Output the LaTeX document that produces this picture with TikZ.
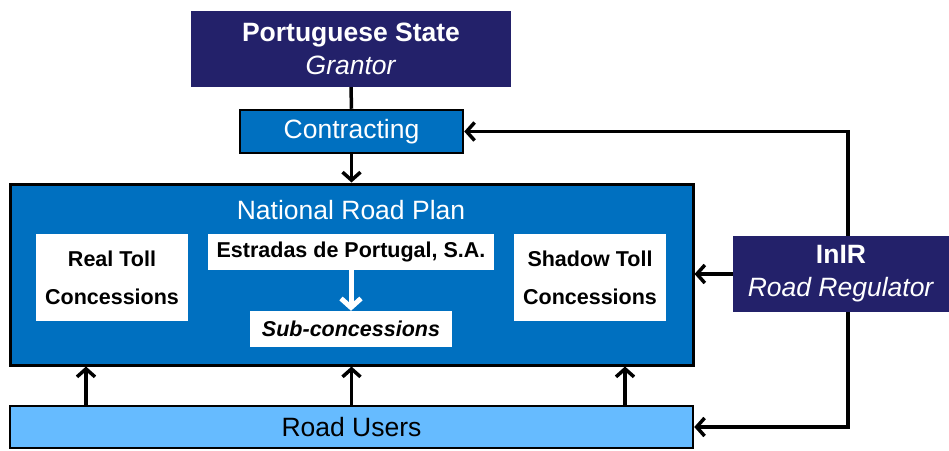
\documentclass[tikz,border=0pt]{standalone}
\usepackage{fontspec}
\setmainfont{Liberation Sans}
\usetikzlibrary{arrows.meta,backgrounds}
\definecolor{navy}{RGB}{35,33,106}
\definecolor{midblue}{RGB}{0,112,192}
\definecolor{lightblue}{RGB}{102,187,255}
\tikzset{
  navybox/.style={fill=navy,text=white,inner sep=0pt,align=center},
  bluebox/.style={fill=midblue,draw=black,line width=2.5pt,inner sep=0pt,text=white},
  whitebox/.style={fill=white,inner sep=0pt,align=center,font=\fontsize{21.5}{38}\selectfont\bfseries},
  conn/.style={draw=black,line width=3.5pt},
  tip/.style={-{Straight Barb[length=8pt,width=18pt,line width=3.5pt]}},
  bigfont/.style={font=\fontsize{26.5}{33}\selectfont},
}
\begin{document}
\begin{tikzpicture}[x=1pt,y=-1pt]
\useasboundingbox (0,0) rectangle (949,450);
% nodes
\node[navybox,minimum width=320,minimum height=76,bigfont] (state) at (351,49)
  {\textbf{Portuguese State}\\\textit{Grantor}};
\node[bluebox,minimum width=223,minimum height=43,bigfont] (contract) at (351.5,131.5) {Contracting};
\node[bluebox,line width=3pt,minimum width=683,minimum height=181] (nrp) at (351.5,274.5) {};
\node[text=white,bigfont,inner sep=0pt] (nrptitle) at (351,210) {National Road Plan};
\node[whitebox,minimum width=152,minimum height=87] (real) at (112,277.5) {Real Toll\\Concessions};
\node[whitebox,minimum width=286,minimum height=36] (est) at (351,252) {Estradas de Portugal, S.A.};
\node[whitebox,minimum width=202,minimum height=36] (sub) at (351,329) {\textit{Sub-concessions}};
\node[whitebox,minimum width=152,minimum height=87] (shadow) at (590,277.5) {Shadow Toll\\Concessions};
\node[navybox,minimum width=216,minimum height=76,bigfont] (inir) at (841,274)
  {\textbf{InIR}\\\textit{Road Regulator}};
\node[bluebox,fill=lightblue,text=black,minimum width=683,minimum height=42,bigfont] (road) at (351.5,427) {Road Users};
\coordinate (loopx) at (848,0);
\coordinate (a1) at (86,0);
\coordinate (a2) at (351.5,0);
\coordinate (a3) at (625,0);
% connectors
\begin{pgfonlayer}{background}
\draw[conn] (state.south) -- (contract.north);
\draw[conn,tip] (contract.south) -- (nrp.north);
\draw[conn,{Straight Barb[length=8pt,width=18pt,line width=3.5pt]}-{Straight Barb[length=8pt,width=18pt,line width=3.5pt]}]
  (contract.east) -- (contract.east -| loopx) -- (road.east -| loopx) -- (road.east);
\end{pgfonlayer}
\draw[conn,tip] (inir.west) -- (inir.west -| nrp.east);
\draw[conn,tip] (road.north -| a1) -- (nrp.south -| a1);
\draw[conn,tip] (road.north -| a2) -- (nrp.south -| a2);
\draw[conn,tip] (road.north -| a3) -- (nrp.south -| a3);
\draw[draw=white,line width=5pt,-{Straight Barb[length=9pt,width=20pt,line width=5pt]}] (est.south) -- (sub.north);
\end{tikzpicture}
\end{document}
